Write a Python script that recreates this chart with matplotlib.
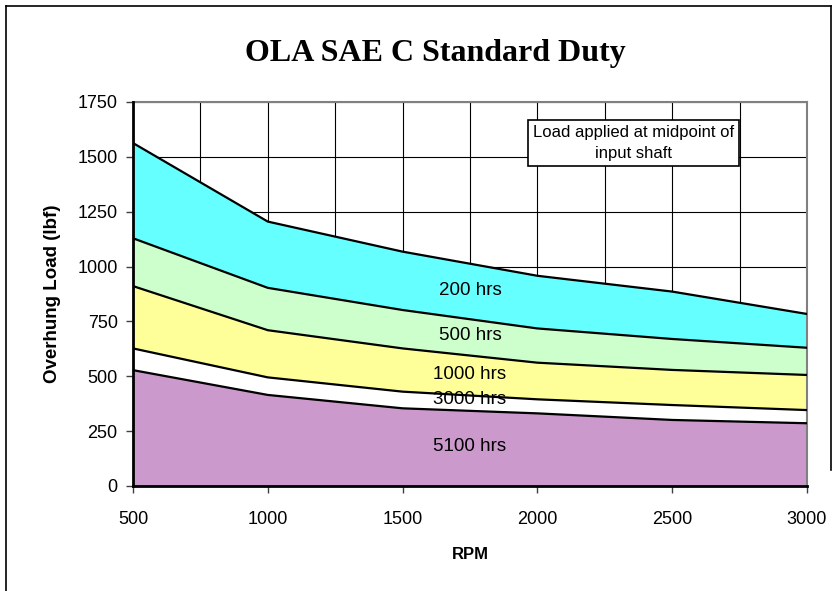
import matplotlib
matplotlib.use("Agg")
import matplotlib.pyplot as plt
from matplotlib.ticker import MultipleLocator
from matplotlib.lines import Line2D

rpm = [500, 1000, 1500, 2000, 2500, 3000]
load_200 = [1563, 1205, 1068, 958, 886, 784]
load_500 = [1129, 903, 802, 718, 670, 630]
load_1000 = [911, 710, 627, 562, 529, 506]
load_3000 = [627, 495, 430, 395, 369, 346]
load_5100 = [528, 415, 354, 331, 301, 286]

series = [
    ("200 hrs", load_200, "#66FFFF", 889),
    ("500 hrs", load_500, "#CCFFCC", 684),
    ("1000 hrs", load_1000, "#FFFF99", 510),
    ("3000 hrs", load_3000, "#FFFFFF", 392),
    ("5100 hrs", load_5100, "#CC99CC", 178),
]
label_x = 1750

plt.rcParams['font.family'] = ['Liberation Sans', 'DejaVu Sans']

fig = plt.figure(figsize=(8.37, 5.91), dpi=100)
ax = fig.add_axes([133/837, 1-486/591, (807-133)/837, (486-102)/591])

for name, vals, color, ly in series:
    ax.fill_between(rpm, 0, vals, facecolor=color, edgecolor='none', zorder=2)
    ax.plot(rpm, vals, color='black', lw=1.6, zorder=3)
    ax.text(label_x, ly, name, ha='center', va='center', fontsize=13.5, zorder=5)

ax.set_xlim(500, 3000)
ax.set_ylim(0, 1750)
ax.xaxis.set_major_locator(MultipleLocator(500))
ax.xaxis.set_minor_locator(MultipleLocator(250))
ax.yaxis.set_major_locator(MultipleLocator(250))
ax.grid(True, which='both', color='black', lw=0.8, zorder=1)
ax.set_axisbelow(True)
ax.tick_params(axis='both', which='major', direction='out', length=5, width=1,
               labelsize=13, color='#404040')
ax.tick_params(axis='x', which='minor', length=0)
ax.tick_params(axis='x', pad=13)
ax.tick_params(axis='y', pad=6)

for s in ['top', 'right']:
    ax.spines[s].set_color('#808080')
    ax.spines[s].set_linewidth(1.5)
for s in ['left', 'bottom']:
    ax.spines[s].set_color('black')
    ax.spines[s].set_linewidth(2)
    ax.spines[s].set_zorder(6)

ax.set_xlabel("RPM", fontsize=12, fontweight='bold', labelpad=14)
ax.set_ylabel("Overhung Load (lbf)", fontsize=13.5, fontweight='bold', labelpad=12)

ax.text(2358, 1563, "Load applied at midpoint of\ninput shaft", ha='center', va='center',
        fontsize=12, zorder=7, linespacing=1.45,
        bbox=dict(boxstyle='square,pad=0.3', facecolor='white', edgecolor='black', lw=1.2))

fig.text(435/837, 1-53/591, "OLA SAE C Standard Duty", ha='center', va='center',
         fontsize=23, fontweight='bold', family=['Liberation Serif', 'DejaVu Serif'])

# outer chart frame (left, top, right)
fig.add_artist(Line2D([6/837, 6/837], [0, 1-6/591], color='black', lw=1.2, transform=fig.transFigure))
fig.add_artist(Line2D([6/837, 831/837], [1-6/591, 1-6/591], color='black', lw=1.2, transform=fig.transFigure))
fig.add_artist(Line2D([831/837, 831/837], [1-6/591, 1-470/591], color='black', lw=1.2, transform=fig.transFigure))

fig.savefig("out.png", dpi=100)
